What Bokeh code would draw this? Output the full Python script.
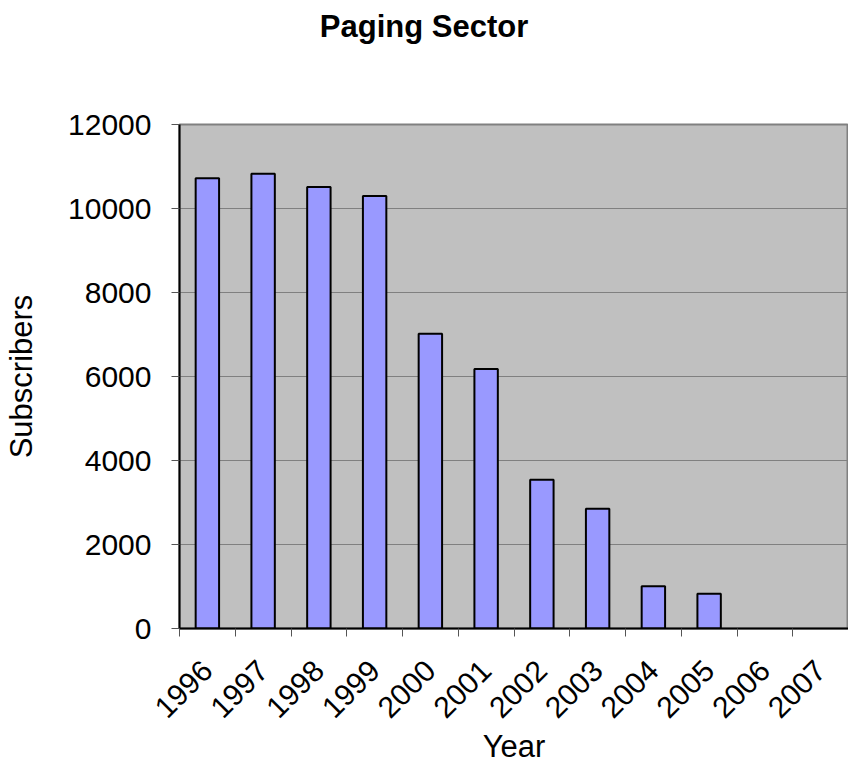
from bokeh.plotting import figure
from bokeh.models import ColumnDataSource, FixedTicker, Range1d, Div
from bokeh.layouts import column
from bokeh.embed import file_html
from bokeh.resources import INLINE
import math

years = ["1996", "1997", "1998", "1999", "2000", "2001", "2002", "2003", "2004", "2005", "2006", "2007"]
subscribers = [10720, 10830, 10510, 10300, 7020, 6180, 3540, 2850, 1005, 825, 0, 0]
y_ticks = [0, 2000, 4000, 6000, 8000, 10000, 12000]
title_text = "Paging Sector"

FONT = "Liberation Sans"

xs = [i + 0.5 for i in range(len(years))]
outline_alpha = [1.0 if v > 0 else 0.0 for v in subscribers]
src = ColumnDataSource(data=dict(x=xs, top=subscribers, year=years, la=outline_alpha))

title_div = Div(text=title_text, width=848, height=60,
                styles={"margin": "0", "padding": "0"},
                stylesheets=[":host { margin: 0; } div { text-align: center; font-family: 'Liberation Sans'; "
                             "font-weight: bold; font-size: 31px; line-height: 31px; padding-top: 11px; "
                             "width: 848px; color: black; }"])

p = figure(output_backend="svg", toolbar_location=None,
           x_range=Range1d(0, len(years)), y_range=Range1d(0, 12000),
           frame_width=669, frame_height=504,
           min_border_left=179, min_border_right=0, min_border_top=64, min_border_bottom=129)

p.border_fill_color = "white"
p.background_fill_color = "#C0C0C0"
p.outline_line_color = "#808080"
p.outline_line_width = 2

p.vbar(x="x", top="top", width=0.42, source=src, fill_color="#9999FF",
       line_color="black", line_width=2, line_alpha="la")

# x axis
p.xaxis.ticker = FixedTicker(ticks=xs, minor_ticks=list(range(len(years) + 1)))
p.xaxis.major_label_overrides = {x: y for x, y in zip(xs, years)}
p.xaxis.major_tick_in = 0
p.xaxis.major_tick_out = 0
p.xaxis.minor_tick_in = 0
p.xaxis.minor_tick_out = 8
p.xaxis.minor_tick_line_color = "#555555"
p.xaxis.major_label_orientation = math.pi / 4
p.xaxis.major_label_standoff = 29
p.xaxis.axis_label = "Year"
p.xaxis.axis_label_standoff = -1

# y axis
p.yaxis.ticker = FixedTicker(ticks=y_ticks)
p.yaxis.major_tick_in = 0
p.yaxis.major_tick_out = 8
p.yaxis.minor_tick_line_color = None
p.yaxis.major_tick_line_color = "#555555"
p.yaxis.major_label_standoff = 20
p.yaxis.axis_label = "Subscribers"
p.yaxis.axis_label_standoff = 26

for ax in (p.xaxis, p.yaxis):
    ax.axis_line_color = "black"
    ax.axis_line_width = 2
    ax.major_label_text_font = FONT
    ax.major_label_text_font_size = "30px"
    ax.major_label_text_color = "black"
    ax.axis_label_text_font = FONT
    ax.axis_label_text_font_size = "31px"
    ax.axis_label_text_font_style = "normal"
    ax.axis_label_text_color = "black"

p.xgrid.grid_line_color = None
p.ygrid.grid_line_color = "#808080"
p.ygrid.grid_line_width = 1
p.ygrid.ticker = FixedTicker(ticks=y_ticks)

layout = column(title_div, p, spacing=0)

open("out.html", "w").write(file_html(layout, INLINE))
